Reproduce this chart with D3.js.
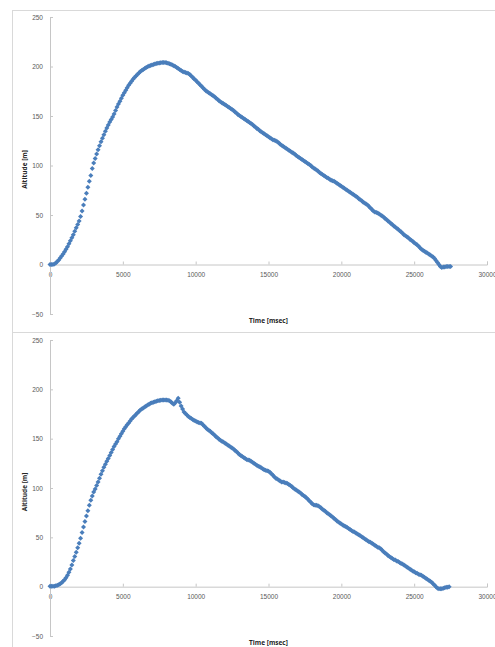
<!DOCTYPE html>
<html>
<head>
<meta charset="utf-8">
<script src="https://cdn.jsdelivr.net/npm/d3@7"></script>
<style>
  body { margin: 0; background: #fff; }
  svg { display: block; font-family: "Open Sans", "Liberation Sans", sans-serif; }
</style>
</head>
<body>
<div id="chart"></div>
<script>
// logger samples every 100 ms, altitude in metres
const sampleMs = 100;

const xTicks = [0, 5000, 10000, 15000, 20000, 25000, 30000];
const yTicks = [-50, 0, 50, 100, 150, 200, 250];
const xTitle = 'Time [msec]';
const yTitle = 'Altitude [m]';

const altitude1 = [
  0, 0, 0, 0.5, 1.5, 3, 4.5, 6.5, 8.5, 10.5,
  13, 15.5, 18, 21, 24, 27, 30, 33.5, 37, 40.5,
  44, 48.5, 54, 60, 66, 72, 78, 84, 90, 97,
  102.5, 107, 111.5, 116, 120, 124, 127.5, 131, 134.5, 138,
  141, 144, 146.5, 149, 152, 155.5, 159, 162, 165, 168,
  171, 173.5, 176, 178.5, 181, 183, 185, 187, 189, 190.5,
  192, 193.5, 195, 196, 197, 198, 199, 199.8, 200.5, 201,
  201.5, 202, 202.5, 203, 203.3, 203.6, 203.8, 204, 204, 204,
  203.7, 203.3, 202.8, 202.2, 201.5, 200.8, 200, 199, 198, 197,
  196, 195, 194.5, 194, 193.5, 193, 192, 190.5, 189, 187.5,
  186, 184.5, 183, 181.5, 180, 178.5, 177, 175.5, 174.5, 173.5,
  172.5, 171.5, 170.5, 169.5, 168, 167, 165.5, 164.5, 163.5, 162.5,
  161.5, 160.5, 159.5, 158.5, 157.5, 156.5, 155.5, 154, 153, 151.5,
  150.5, 149.5, 148.5, 147.5, 146.5, 145.5, 144.5, 143.5, 142.5, 141.5,
  140, 139, 137.5, 136.5, 135, 134, 133, 132, 131, 130,
  129, 128, 127, 126, 125.5, 125, 124, 123, 121.5, 120.5,
  119.5, 118.5, 117.5, 116.5, 115.5, 114.5, 113.5, 112.5, 111.5, 110,
  109, 108, 107, 106, 105, 104, 103, 102, 101, 100,
  98.5, 97.5, 96.5, 95.5, 94.5, 93, 92, 91, 90, 89,
  88, 87, 86, 85, 84.5, 84, 83, 82, 81, 80,
  79, 78, 77, 76, 75, 74, 73, 72, 71, 70,
  69, 68, 66.5, 65.5, 64.5, 63, 62, 61, 60, 58.5,
  57, 55.5, 54, 53, 52.5, 52, 51, 50, 49, 48,
  46.5, 45.5, 44, 43, 41.5, 40.5, 39, 38, 36.5, 35.5,
  34, 33, 31.5, 30, 29, 28, 27, 25.5, 24.5, 23.5,
  22, 21, 20, 18.5, 17, 15.5, 14.5, 13.5, 12.5, 11.5,
  10.5, 9.5, 8.5, 7.5, 6, 4, 2, 0, -2, -3,
  -2.5, -2.5, -2, -2, -2, -2
];

const altitude2 = [
  0.5, 0.5, 0.5, 0.5, 1, 1.5, 2, 3, 4, 5.5,
  7, 9, 11.5, 14.5, 18, 22, 26.5, 30.5, 35, 39.5,
  44, 49, 55, 60.5, 66, 71.5, 77, 82.5, 87.5, 92,
  96, 99, 102.5, 106, 110, 114, 117.5, 121, 124, 127,
  130, 133, 136, 139, 142, 144.5, 147, 150, 152.5, 155,
  157.5, 160, 162, 164, 166, 168, 170, 171.5, 173, 174.5,
  176, 177.5, 179, 180, 181, 182, 183, 184, 185, 185.8,
  186.5, 187, 187.5, 188, 188.5, 188.8, 189, 189.2, 189.3, 189.3,
  189.2, 189, 188.5, 187.5, 186, 185, 186.5, 188.5, 191, 187,
  183, 180, 177, 175.5, 174, 172.5, 171.5, 170.5, 169.5, 168.5,
  168, 167, 166.5, 166, 165.5, 164, 162.5, 161, 159.5, 158.5,
  157.5, 156, 155, 153.5, 152, 151, 149.5, 148.5, 147.5, 146.5,
  145.5, 144.5, 143.5, 142.5, 141.5, 140.5, 139.5, 138, 137, 135.5,
  134, 133, 132, 131, 130, 129, 128.5, 128, 127, 126,
  125, 124, 123, 122, 121.5, 120.5, 119.5, 118.5, 118, 117.5,
  117, 116, 114.5, 113, 111.5, 110, 109, 108, 107, 106,
  106, 105.5, 105, 104.5, 103.5, 102.5, 101.5, 100, 99, 98,
  97, 96, 95, 93.5, 92.5, 91.5, 90, 88.5, 87, 85.5,
  84, 83, 82.5, 82.5, 82, 81, 80, 78.5, 77.5, 76.5,
  75, 74, 73, 71.5, 70.5, 69, 68, 66.5, 65.5, 64.5,
  63.5, 62.5, 61.5, 61, 60, 59, 58, 57, 56, 55.5,
  54.5, 53.5, 52.5, 51.5, 50.5, 49.5, 48.5, 47.5, 46.5, 45.5,
  45, 44, 43, 42, 41, 40, 39.5, 38.5, 37, 35.5,
  34, 33, 31.5, 30.5, 29.5, 28.5, 27.5, 27, 26, 25.5,
  24.5, 23.5, 23, 22, 21, 20, 19, 18, 17, 16,
  15, 14, 13.5, 12.5, 12, 11.5, 10.5, 9.5, 8.5, 7.5,
  6.5, 5.5, 4.5, 3, 1.5, 0, -1.5, -2, -2, -2,
  -1.5, -1, -0.5, -0.5, 0
];

const W = 495, H = 647;
const blue = '#4a7ebb';
const axisGrey = '#c6c6c6';

const svg = d3.select('#chart').append('svg')
  .attr('width', W)
  .attr('height', H)
  .style('background', '#fff');

function drawPanel(series, panelTop, panelBottom, plotTop, plotBottom) {
  svg.append('rect')
    .attr('x', 12.5).attr('y', panelTop + 0.5)
    .attr('width', 600).attr('height', panelBottom - panelTop)
    .attr('fill', 'none')
    .attr('stroke', '#d9d9d9');

  let x = d3.scaleLinear().domain([0, 30000]).range([50, 487]);
  let y = d3.scaleLinear().domain([-50, 250]).range([plotBottom, plotTop]);

  let g = svg.append('g');

  // x axis sits on altitude 0
  let xAxis = g.append('g')
    .attr('transform', `translate(0,${y(0)})`)
    .call(d3.axisBottom(x).tickValues(xTicks).tickSize(-3).tickPadding(8).tickFormat(d3.format('d')));

  let yAxis = g.append('g')
    .attr('transform', `translate(${x(0)},0)`)
    .call(d3.axisLeft(y).tickValues(yTicks).tickSize(-3).tickPadding(7).tickFormat(d3.format('d')));

  [xAxis, yAxis].forEach(a => {
    a.select('.domain').attr('stroke', axisGrey);
    a.selectAll('.tick line').attr('stroke', axisGrey);
    a.selectAll('.tick text')
      .attr('fill', '#595959')
      .style('font-size', '6.5px');
  });

  g.append('text')
    .attr('x', (x.range()[0] + x.range()[1]) / 2)
    .attr('y', plotBottom + 9)
    .attr('text-anchor', 'middle')
    .style('font-size', '6.5px')
    .style('font-weight', 'bold')
    .attr('fill', '#262626')
    .text(xTitle);

  let cy = (plotTop + plotBottom) / 2 + 4;
  g.append('text')
    .attr('transform', `translate(27,${cy}) rotate(-90)`)
    .attr('text-anchor', 'middle')
    .style('font-size', '6.5px')
    .style('font-weight', 'bold')
    .attr('fill', '#262626')
    .text(yTitle);

  let marker = d3.symbol().type(d3.symbolSquare).size(12.5);

  g.append('g')
    .selectAll('path')
    .data(series)
    .enter()
    .append('path')
    .attr('d', marker)
    .attr('transform', (d, i) => `translate(${x(i * sampleMs)},${y(d)}) rotate(45)`)
    .attr('fill', blue);
}

drawPanel(altitude1, 10, 332, 17, 314);
drawPanel(altitude2, 332, 700, 340, 636);
</script>
</body>
</html>
